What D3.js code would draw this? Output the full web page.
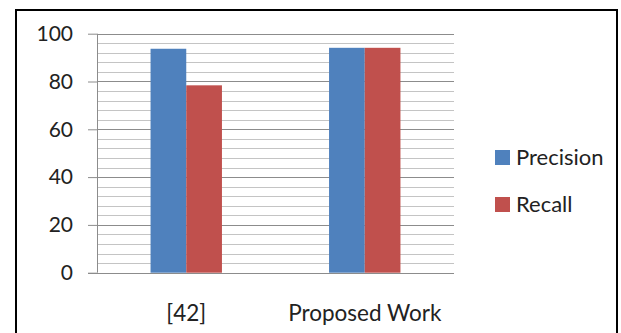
<!DOCTYPE html>
<html>
<head>
<meta charset="utf-8">
<script src="https://cdn.jsdelivr.net/npm/d3@7"></script>
<style>
  html, body { margin: 0; padding: 0; background: #fff; }
  svg { display: block; }
  text { font-family: Lato, "Open Sans", sans-serif; fill: #222; }
</style>
</head>
<body>
<svg id="chart" width="621" height="333"></svg>
<script>
// Categories, series and their values
const categories = ["[42]", "Proposed Work"];
const seriesNames = ["Precision", "Recall"];
const precision = [93.7, 94.1];
const recall = [78.4, 94.1];
const yTicks = [0, 20, 40, 60, 80, 100];
const colors = ["#4F81BD", "#C0504D"];

const seriesValues = [precision, recall];
const rows = categories.map((c, i) => ({
  category: c,
  values: seriesNames.map((s, k) => ({ series: s, value: seriesValues[k][i] }))
}));

const svg = d3.select("#chart");
const plot = { left: 97, right: 454, top: 33.7, bottom: 272.7 };

// Outer frame
svg.append("rect")
  .attr("x", 16).attr("y", 10)
  .attr("width", 601).attr("height", 345)
  .attr("fill", "none")
  .attr("stroke", "#000")
  .attr("stroke-width", 2);

const y = d3.scaleLinear().domain([0, 100]).range([plot.bottom, plot.top]);
const x0 = d3.scaleBand().domain(categories)
  .range([plot.left, plot.right]).paddingInner(0.6).paddingOuter(0.3);
const x1 = d3.scaleBand().domain(seriesNames).range([0, x0.bandwidth()]);

// Minor gridlines every 4 units
const minor = d3.range(0, 101, 4).filter(v => v % 20 !== 0);
svg.append("g").selectAll("line").data(minor).join("line")
  .attr("x1", plot.left).attr("x2", plot.right)
  .attr("y1", d => Math.round(y(d)) + 0.5).attr("y2", d => Math.round(y(d)) + 0.5)
  .attr("stroke", "#c4c4c4").attr("stroke-width", 1);

// Major gridlines
svg.append("g").selectAll("line").data(yTicks.filter(v => v > 0)).join("line")
  .attr("x1", plot.left).attr("x2", plot.right)
  .attr("y1", d => Math.round(y(d)) + 0.5).attr("y2", d => Math.round(y(d)) + 0.5)
  .attr("stroke", "#8c8c8c").attr("stroke-width", 1);

// Y axis with tick labels
const yAxis = svg.append("g")
  .attr("transform", `translate(${plot.left},0)`)
  .call(d3.axisLeft(y).tickValues(yTicks).tickSize(9).tickPadding(15).tickFormat(d3.format("d")));
yAxis.select(".domain").attr("stroke", "#8c8c8c").attr("d", `M0.5,${plot.top}V${plot.bottom}`);
yAxis.selectAll(".tick line").attr("stroke", "#8c8c8c");
yAxis.selectAll(".tick text")
  .attr("fill", "#222")
  .style("font-family", "Lato, sans-serif")
  .style("font-size", "21px");

// Bars
svg.append("g").selectAll("g").data(rows).join("g")
  .attr("transform", d => `translate(${x0(d.category)},0)`)
  .selectAll("rect").data(d => d.values).join("rect")
  .attr("x", d => x1(d.series))
  .attr("width", x1.bandwidth())
  .attr("y", d => y(d.value))
  .attr("height", d => y(0) - y(d.value))
  .attr("fill", (d, i) => colors[i]);

// X axis baseline and category labels
const xAxis = svg.append("g")
  .attr("transform", `translate(0,${Math.round(plot.bottom) + 0.5})`)
  .call(d3.axisBottom(x0).tickSize(0).tickPadding(32));
xAxis.select(".domain").attr("stroke", "#8c8c8c").attr("d", `M${plot.left - 9},0H${plot.right}`);
xAxis.selectAll(".tick text")
  .attr("fill", "#222")
  .style("font-family", "Lato, sans-serif")
  .style("font-size", "22.5px");

// Legend
const legend = svg.append("g").selectAll("g").data(seriesNames).join("g")
  .attr("transform", (d, i) => `translate(495,${150 + i * 47})`);
legend.append("rect").attr("width", 15).attr("height", 15)
  .attr("fill", (d, i) => colors[i]);
legend.append("text").attr("x", 21).attr("y", 15)
  .style("font-size", "22px")
  .text(d => d);
</script>
</body>
</html>
